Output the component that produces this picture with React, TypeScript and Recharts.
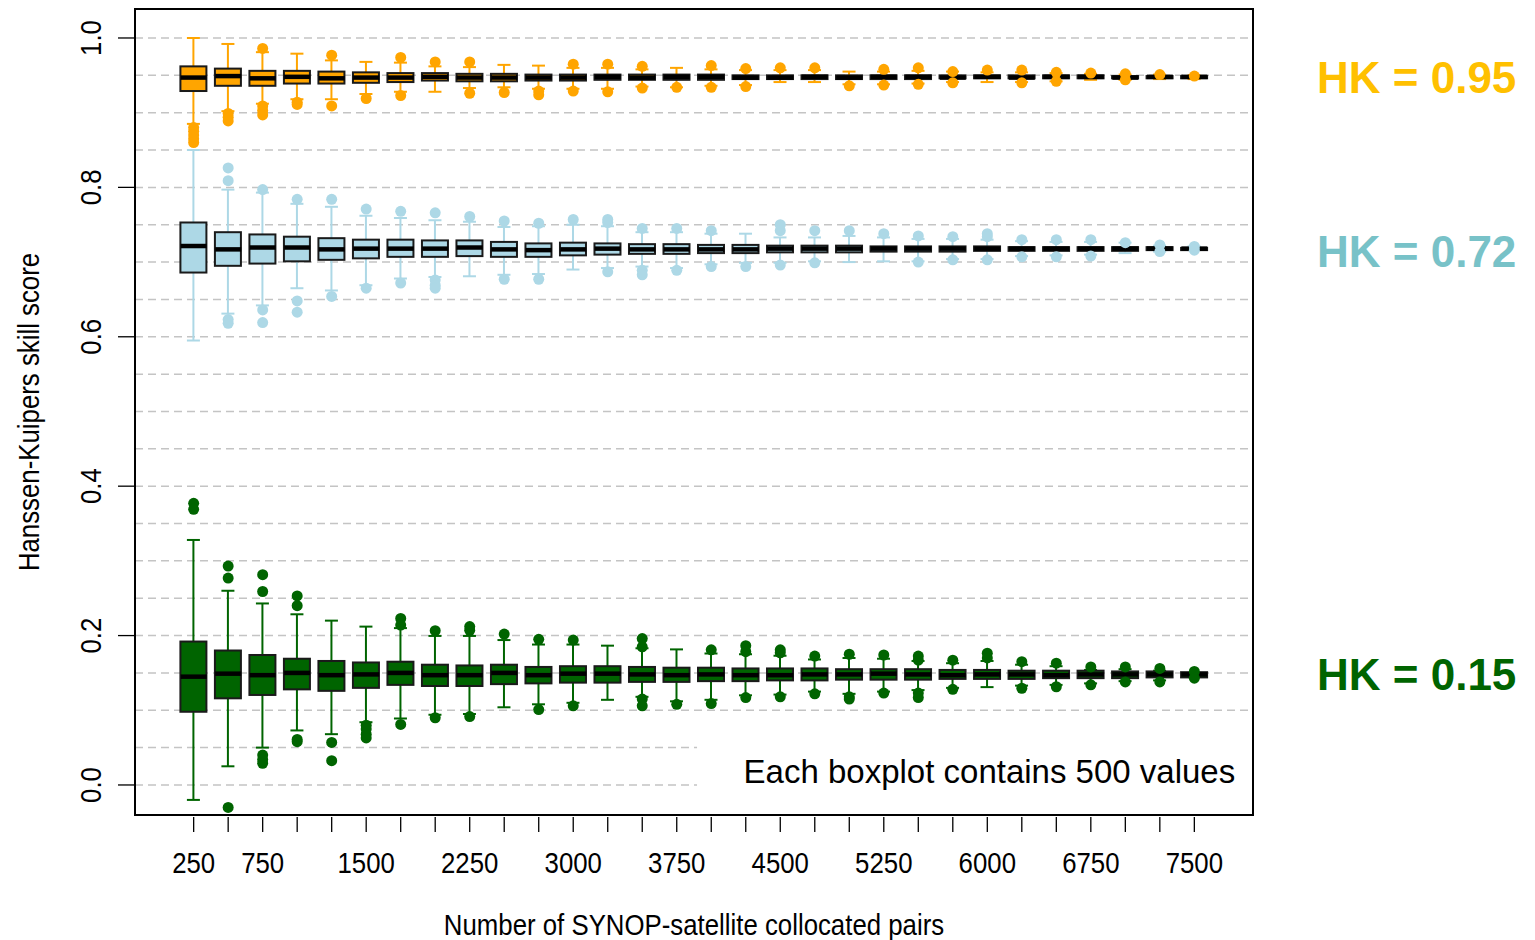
import React from 'react';
import {
  ComposedChart, Bar, Scatter, XAxis, YAxis, CartesianGrid,
  ReferenceArea, ReferenceLine,
} from 'recharts';

// sample sizes (one boxplot per size and per case)
const PAIRS = [
  250, 500, 750, 1000, 1250, 1500, 1750, 2000, 2250, 2500,
  2750, 3000, 3250, 3500, 3750, 4000, 4250, 4500, 4750, 5000,
  5250, 5500, 5750, 6000, 6250, 6500, 6750, 7000, 7250, 7500,
];
const X_LABELS = [250, 750, 1500, 2250, 3000, 3750, 4500, 5250, 6000, 6750, 7500];
const Y_TICKS = [0, 0.2, 0.4, 0.6, 0.8, 1.0];
const GRID_LINES = [
  0, 0.05, 0.1, 0.15, 0.2, 0.25, 0.3, 0.35, 0.4, 0.45, 0.5,
  0.55, 0.6, 0.65, 0.7, 0.75, 0.8, 0.85, 0.9, 0.95, 1.0,
];

// HK = 0.95
const ORANGE_LO = [0.885, 0.902, 0.912, 0.918, 0.918, 0.925, 0.928, 0.928, 0.933, 0.934, 0.932, 0.932, 0.932, 0.935, 0.934, 0.936, 0.937, 0.941, 0.941, 0.938, 0.938, 0.939, 0.941, 0.941, 0.941, 0.942, 0.944, 0.944, 0.945, 0.945];
const ORANGE_Q1 = [0.929, 0.936, 0.936, 0.939, 0.939, 0.940, 0.941, 0.943, 0.942, 0.942, 0.943, 0.943, 0.944, 0.944, 0.944, 0.944, 0.945, 0.945, 0.945, 0.945, 0.945, 0.945, 0.946, 0.946, 0.946, 0.946, 0.946, 0.946, 0.946, 0.946];
const ORANGE_MED = [0.947, 0.949, 0.946, 0.948, 0.946, 0.947, 0.947, 0.948, 0.947, 0.947, 0.947, 0.947, 0.948, 0.947, 0.948, 0.948, 0.947, 0.947, 0.948, 0.947, 0.948, 0.948, 0.947, 0.948, 0.947, 0.948, 0.948, 0.947, 0.948, 0.948];
const ORANGE_Q3 = [0.962, 0.959, 0.956, 0.956, 0.955, 0.954, 0.953, 0.953, 0.952, 0.952, 0.951, 0.951, 0.951, 0.951, 0.951, 0.951, 0.950, 0.950, 0.950, 0.950, 0.950, 0.950, 0.950, 0.950, 0.950, 0.950, 0.950, 0.949, 0.949, 0.949];
const ORANGE_HI = [1.0, 0.992, 0.981, 0.979, 0.970, 0.968, 0.967, 0.962, 0.961, 0.964, 0.963, 0.960, 0.960, 0.958, 0.960, 0.958, 0.957, 0.957, 0.957, 0.955, 0.955, 0.956, 0.955, 0.954, 0.954, 0.953, 0.952, 0.951, 0.951, 0.950];
const ORANGE_OUT = [
  [0.880, 0.875, 0.870, 0.865, 0.860], [0.899, 0.894, 0.889], [0.986, 0.909, 0.903, 0.897], [0.914, 0.911],
  [0.977, 0.909], [0.919], [0.974, 0.923], [0.968], [0.968, 0.926], [0.927],
  [0.929, 0.924], [0.965, 0.929], [0.965, 0.928], [0.962, 0.933], [0.934], [0.963, 0.934],
  [0.959, 0.935], [0.960], [0.960], [0.936], [0.958, 0.937], [0.960, 0.938],
  [0.955, 0.940], [0.957], [0.957, 0.940], [0.954, 0.942], [0.953], [0.952, 0.944], [0.951], [0.949],
];

// HK = 0.72
const BLUE_LO = [0.595, 0.631, 0.642, 0.665, 0.662, 0.669, 0.678, 0.680, 0.681, 0.683, 0.684, 0.690, 0.692, 0.694, 0.692, 0.697, 0.699, 0.699, 0.701, 0.700, 0.701, 0.701, 0.704, 0.704, 0.708, 0.709, 0.710, 0.712, 0.714, 0.716];
const BLUE_Q1 = [0.686, 0.695, 0.698, 0.701, 0.703, 0.705, 0.707, 0.707, 0.708, 0.707, 0.707, 0.709, 0.710, 0.711, 0.711, 0.712, 0.712, 0.713, 0.713, 0.713, 0.714, 0.714, 0.714, 0.715, 0.715, 0.715, 0.715, 0.715, 0.716, 0.716];
const BLUE_MED = [0.7215, 0.717, 0.7195, 0.7195, 0.717, 0.718, 0.718, 0.718, 0.7195, 0.717, 0.716, 0.717, 0.718, 0.717, 0.717, 0.717, 0.717, 0.718, 0.718, 0.718, 0.718, 0.718, 0.718, 0.718, 0.718, 0.718, 0.718, 0.718, 0.718, 0.718];
const BLUE_Q3 = [0.753, 0.740, 0.737, 0.734, 0.732, 0.730, 0.730, 0.729, 0.729, 0.727, 0.725, 0.726, 0.725, 0.724, 0.724, 0.723, 0.723, 0.722, 0.722, 0.722, 0.721, 0.721, 0.721, 0.721, 0.720, 0.720, 0.720, 0.720, 0.720, 0.719];
const BLUE_HI = [0.850, 0.797, 0.793, 0.778, 0.774, 0.762, 0.759, 0.756, 0.754, 0.747, 0.748, 0.750, 0.748, 0.740, 0.740, 0.738, 0.738, 0.733, 0.733, 0.735, 0.733, 0.731, 0.731, 0.730, 0.728, 0.727, 0.727, 0.726, 0.722, 0.721];
const BLUE_OUT = [
  [], [0.826, 0.809, 0.623, 0.618], [0.797, 0.636, 0.619], [0.784, 0.648, 0.633],
  [0.784, 0.654], [0.771, 0.665], [0.768, 0.672], [0.766, 0.676, 0.669, 0.665], [0.761], [0.755, 0.677],
  [0.752, 0.677], [0.757], [0.757, 0.753, 0.687], [0.745, 0.689, 0.683], [0.745, 0.689], [0.742, 0.694],
  [0.694], [0.750, 0.742, 0.696], [0.742, 0.699], [0.742], [0.738], [0.735, 0.700],
  [0.734, 0.703], [0.738, 0.734, 0.703], [0.730, 0.707], [0.730, 0.707], [0.730, 0.708], [0.726], [0.723, 0.714], [0.721, 0.716],
];

// HK = 0.15
const GREEN_LO = [-0.020, 0.025, 0.050, 0.073, 0.068, 0.084, 0.089, 0.094, 0.095, 0.104, 0.108, 0.110, 0.114, 0.118, 0.112, 0.114, 0.120, 0.121, 0.125, 0.122, 0.125, 0.127, 0.130, 0.131, 0.133, 0.134, 0.136, 0.139, 0.140, 0.145];
const GREEN_Q1 = [0.098, 0.116, 0.1205, 0.128, 0.126, 0.130, 0.134, 0.1325, 0.1325, 0.135, 0.136, 0.137, 0.137, 0.138, 0.138, 0.139, 0.139, 0.140, 0.140, 0.141, 0.141, 0.141, 0.142, 0.142, 0.142, 0.143, 0.143, 0.143, 0.144, 0.144];
const GREEN_MED = [0.145, 0.149, 0.147, 0.150, 0.147, 0.148, 0.150, 0.147, 0.147, 0.150, 0.147, 0.149, 0.149, 0.148, 0.147, 0.148, 0.147, 0.147, 0.148, 0.148, 0.149, 0.148, 0.147, 0.148, 0.148, 0.147, 0.148, 0.148, 0.148, 0.148];
const GREEN_Q3 = [0.192, 0.180, 0.174, 0.169, 0.166, 0.164, 0.165, 0.161, 0.160, 0.161, 0.158, 0.159, 0.159, 0.158, 0.157, 0.157, 0.156, 0.156, 0.156, 0.155, 0.155, 0.155, 0.154, 0.154, 0.153, 0.153, 0.153, 0.152, 0.152, 0.151];
const GREEN_HI = [0.328, 0.260, 0.243, 0.2285, 0.220, 0.212, 0.210, 0.1995, 0.1995, 0.194, 0.188, 0.188, 0.1865, 0.183, 0.1815, 0.176, 0.175, 0.173, 0.168, 0.170, 0.169, 0.166, 0.163, 0.166, 0.161, 0.159, 0.154, 0.155, 0.153, 0.150];
const GREEN_OUT = [
  [0.377, 0.369], [0.293, 0.277, -0.030], [0.2815, 0.259, 0.040, 0.034, 0.029], [0.253, 0.240, 0.061, 0.058],
  [0.057, 0.0325], [0.080, 0.075, 0.068, 0.063], [0.223, 0.214, 0.081], [0.2065, 0.090], [0.212, 0.207, 0.0915], [0.202],
  [0.195, 0.101], [0.194, 0.106], [], [0.196, 0.185, 0.115, 0.106], [0.108], [0.181, 0.109],
  [0.1865, 0.1785, 0.117], [0.181, 0.177, 0.118], [0.1725, 0.122], [0.175, 0.118, 0.115], [0.174, 0.123], [0.1725, 0.167, 0.123, 0.117],
  [0.167, 0.128], [0.1765, 0.170], [0.165, 0.1295], [0.163, 0.1315], [0.158, 0.134], [0.158, 0.138], [0.156, 0.138], [0.152, 0.143],
];

const ORANGE = '#FFA500';
const BLUE = '#ADD8E6';
const GREEN = '#006400';
const SANS = '"Liberation Sans", Arial, sans-serif';
const NARROW = 0.86; // the original axis text is a condensed face
const BOX_W = 26;

const rows = PAIRS.map((n, i) => ({
  n,
  oWhisk: [ORANGE_LO[i], ORANGE_HI[i]], oBox: [ORANGE_Q1[i], ORANGE_Q3[i]], oMed: ORANGE_MED[i],
  bWhisk: [BLUE_LO[i], BLUE_HI[i]], bBox: [BLUE_Q1[i], BLUE_Q3[i]], bMed: BLUE_MED[i],
  gWhisk: [GREEN_LO[i], GREEN_HI[i]], gBox: [GREEN_Q1[i], GREEN_Q3[i]], gMed: GREEN_MED[i],
}));

const toPoints = (out: number[][]) =>
  out.flatMap((vals, i) => vals.map(v => ({ n: PAIRS[i], v })));

const whiskerShape = (color: string) => (props: any) => {
  const { x, y, width, height } = props;
  const cx = x + width / 2;
  const top = Math.min(y, y + height);
  const bot = Math.max(y, y + height);
  const cap = width / 4;
  return (
    <g>
      <line x1={cx} x2={cx} y1={top} y2={bot} stroke={color} strokeWidth={2} />
      <line x1={cx - cap} x2={cx + cap} y1={top} y2={top} stroke={color} strokeWidth={2} />
      <line x1={cx - cap} x2={cx + cap} y1={bot} y2={bot} stroke={color} strokeWidth={2} />
    </g>
  );
};

const boxShape = (color: string) => (props: any) => {
  const { x, y, width, height } = props;
  return (
    <rect x={x} y={Math.min(y, y + height)} width={width} height={Math.abs(height)}
      fill={color} stroke="#1a1a1a" strokeWidth={2} />
  );
};

const medianShape = (props: any) => {
  const { cx, cy } = props;
  return <line x1={cx - BOX_W / 2} x2={cx + BOX_W / 2} y1={cy} y2={cy} stroke="#000" strokeWidth={4.5} />;
};

const outlierShape = (color: string) => (props: any) => (
  <circle cx={props.cx} cy={props.cy} r={5.5} fill={color} />
);

// condensed text: anchor point, optional rotation, then horizontal squeeze
const NarrowText = ({ x, y, rotate = 0, size = 30, children }: any) => (
  <text x={0} y={0} textAnchor="middle" fontSize={size} fontFamily={SANS} fill="#000"
    transform={`translate(${x}, ${y}) rotate(${rotate}) scale(${NARROW}, 1)`}>
    {children}
  </text>
);

const XTick = ({ x, y, payload }: any) => (
  <g>
    <line x1={x} x2={x} y1={y + 2} y2={y + 17} stroke="#000" strokeWidth={1.3} />
    {X_LABELS.includes(payload.value) && (
      <NarrowText x={x} y={y + 58}>{payload.value}</NarrowText>
    )}
  </g>
);

const YTick = ({ x, y, payload }: any) => (
  <g>
    <line x1={x - 17} x2={x} y1={y} y2={y} stroke="#000" strokeWidth={1.3} />
    <NarrowText x={x - 34} y={y} rotate={-90}>{payload.value.toFixed(1)}</NarrowText>
  </g>
);

const hkLabel = (text: string, color: string, dy: number) => ({
  value: text, position: 'right' as const, offset: 64, dy,
  fill: color, fontSize: 44, fontWeight: 'bold', fontFamily: SANS,
});

export default function App() {
  return (
    <div style={{ position: 'absolute', left: 0, top: 0, width: 1535, height: 940, background: '#fff' }}>
      <ComposedChart width={1535} height={940} data={rows}
        margin={{ top: 9, right: 282, bottom: 0, left: 0 }} barGap={-BOX_W}>
        <CartesianGrid vertical={false} horizontalValues={GRID_LINES}
          stroke="#c4c4c4" strokeDasharray="8 5" strokeWidth={1.5} />
        <XAxis type="number" dataKey="n" domain={[-175, 7925]} allowDataOverflow
          ticks={PAIRS} interval={0} height={125} axisLine={false} tickLine={false}
          tickSize={0} tickMargin={0} tick={<XTick />}
          label={({ viewBox }: any) => (
            <NarrowText x={viewBox.x + viewBox.width / 2} y={viewBox.y + 120} size={30}>
              Number of SYNOP-satellite collocated pairs
            </NarrowText>
          )} />
        <YAxis type="number" domain={[-0.0402, 1.0388]} allowDataOverflow ticks={Y_TICKS}
          width={135} axisLine={false} tickLine={false} tickSize={0} tickMargin={0}
          tick={<YTick />}
          label={({ viewBox }: any) => (
            <NarrowText x={39} y={viewBox.y + viewBox.height / 2} rotate={-90}>
              Hanssen-Kuipers skill score
            </NarrowText>
          )} />

        <ReferenceArea x1={3897} x2={7905} y1={-0.0228} y2={0.0602} fill="#fff" fillOpacity={1}
          stroke="none"
          label={{ value: 'Each boxplot contains 500 values', position: 'insideRight', offset: 15,
            fontSize: 33, fill: '#000', fontFamily: SANS }} />

        <Bar dataKey="oWhisk" barSize={BOX_W} shape={whiskerShape(ORANGE)} isAnimationActive={false} />
        <Bar dataKey="oBox" barSize={BOX_W} shape={boxShape(ORANGE)} isAnimationActive={false} />
        <Bar dataKey="bWhisk" barSize={BOX_W} shape={whiskerShape(BLUE)} isAnimationActive={false} />
        <Bar dataKey="bBox" barSize={BOX_W} shape={boxShape(BLUE)} isAnimationActive={false} />
        <Bar dataKey="gWhisk" barSize={BOX_W} shape={whiskerShape(GREEN)} isAnimationActive={false} />
        <Bar dataKey="gBox" barSize={BOX_W} shape={boxShape(GREEN)} isAnimationActive={false} />

        <Scatter dataKey="oMed" shape={medianShape} isAnimationActive={false} />
        <Scatter dataKey="bMed" shape={medianShape} isAnimationActive={false} />
        <Scatter dataKey="gMed" shape={medianShape} isAnimationActive={false} />
        <Scatter data={toPoints(ORANGE_OUT)} dataKey="v" shape={outlierShape(ORANGE)} isAnimationActive={false} />
        <Scatter data={toPoints(BLUE_OUT)} dataKey="v" shape={outlierShape(BLUE)} isAnimationActive={false} />
        <Scatter data={toPoints(GREEN_OUT)} dataKey="v" shape={outlierShape(GREEN)} isAnimationActive={false} />

        <ReferenceLine y={0.95} stroke="none" label={hkLabel('HK = 0.95', '#FFC000', 2)} />
        <ReferenceLine y={0.72} stroke="none" label={hkLabel('HK = 0.72', '#78C2C8', 4)} />
        <ReferenceLine y={0.15} stroke="none" label={hkLabel('HK = 0.15', GREEN, 1)} />

        <ReferenceArea x1={-175} x2={7925} y1={-0.0402} y2={1.0388} fill="none" stroke="#000"
          strokeWidth={2} ifOverflow="visible" />
      </ComposedChart>
    </div>
  );
}
